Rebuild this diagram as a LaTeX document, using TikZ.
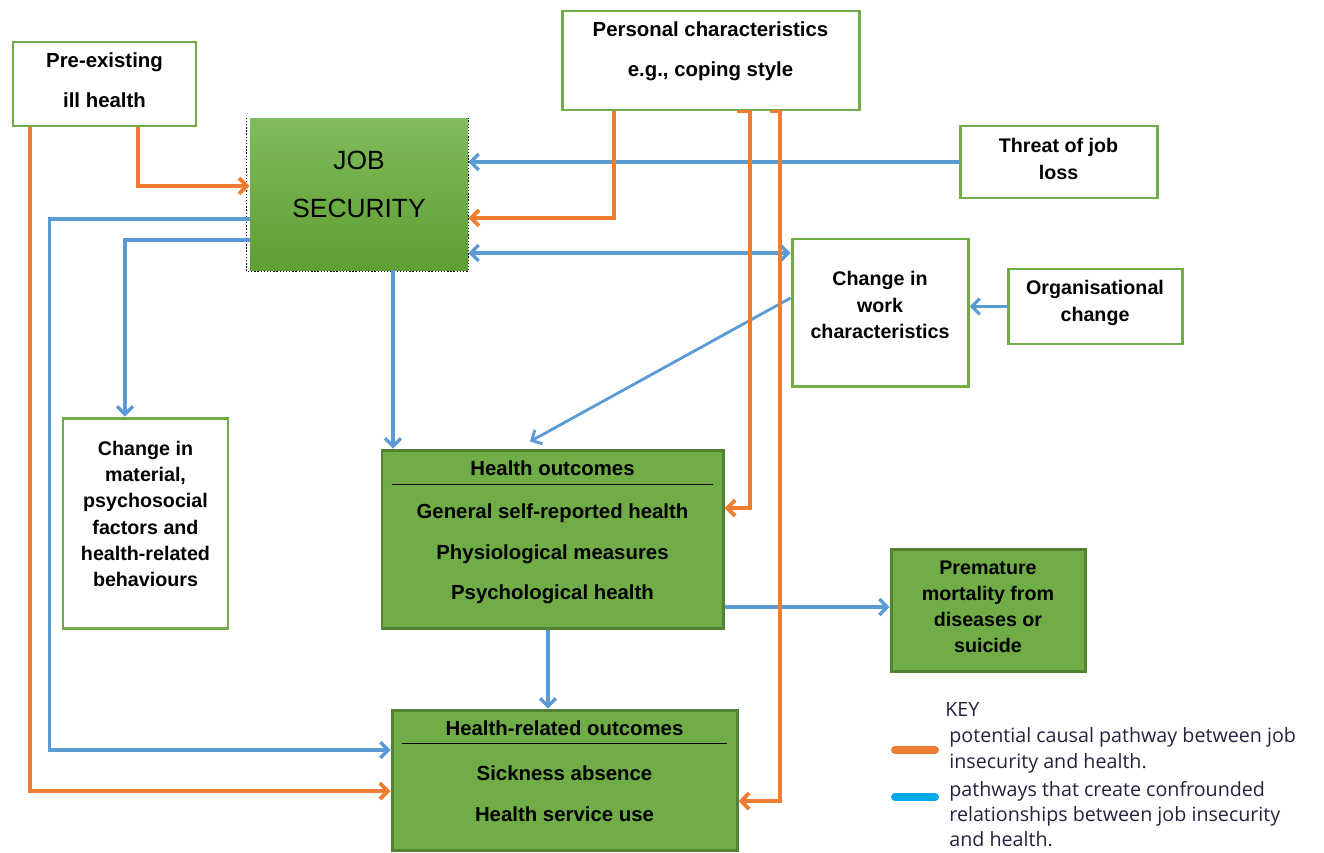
\documentclass[tikz,border=0pt]{standalone}
\usepackage{fontspec}
\setmainfont{Liberation Sans}
\newfontfamily\keyfont{Open Sans}
\usetikzlibrary{arrows.meta,calc}
\definecolor{ogreen}{RGB}{112,173,71}
\definecolor{dgreen}{RGB}{84,130,53}
\definecolor{jtop}{RGB}{128,188,92}
\definecolor{jbot}{RGB}{94,158,50}
\definecolor{orng}{RGB}{237,125,49}
\definecolor{blu}{RGB}{91,155,213}
\definecolor{keyblue}{RGB}{0,169,232}
\definecolor{keytext}{RGB}{38,34,62}
\def\u{0.02cm}
\begin{document}
\begin{tikzpicture}[x=0.02cm,y=-0.02cm,
  wbox/.style={draw=ogreen, line width=1.7pt, fill=white, inner sep=0pt},
  gbox/.style={draw=dgreen, line width=1.7pt, fill=ogreen, inner sep=0pt},
  lblw/.style={font=\fontsize{11.6}{23}\selectfont\bfseries, align=center, inner sep=0pt},
  lbln/.style={font=\fontsize{11.2}{14.9}\selectfont\bfseries, align=center, inner sep=0pt},
  tip/.style={-{Straight Barb[length=4.5pt,width=9pt]}},
  oarr/.style={draw=orng, line width=2.2pt, tip},
  barr/.style={draw=blu, line width=1.9pt, tip},
  keyline/.style={line width=4.5pt, line cap=round},
  keytxt/.style={font=\keyfont\fontsize{11.2}{14.4}\selectfont, text=keytext, align=left, anchor=west, inner sep=0pt}]
\useasboundingbox (0,0) rectangle (1324,852);

% boxes
\node[wbox, minimum width=183*\u, minimum height=84*\u] (pre) at (104.5,84) {};
\node[wbox, minimum width=297*\u, minimum height=99*\u] (pers) at (710.5,60.5) {};
\node[draw=none, inner sep=0pt, minimum width=218*\u, minimum height=152*\u, top color=jtop, bottom color=jbot] (job) at (359,194) {};
\draw[black, densely dotted, line width=0.8pt] ([xshift=-3*\u]job.north west) -- ([xshift=-3*\u,yshift=-1*\u]job.south west) -- ([yshift=-1*\u]job.south east) -- (job.north east);
\node[wbox, minimum width=197*\u, minimum height=72*\u] (threat) at (1058.5,162) {};
\node[wbox, minimum width=176*\u, minimum height=147*\u] (work) at (880,312.5) {};
\node[wbox, minimum width=174*\u, minimum height=75*\u] (org) at (1095,306.5) {};
\node[wbox, minimum width=165*\u, minimum height=210*\u] (mat) at (145.5,523) {};
\node[gbox, minimum width=341*\u, minimum height=178*\u] (ho) at (552.5,539) {};
\node[gbox, minimum width=194*\u, minimum height=122*\u] (prem) at (988,610) {};
\node[gbox, minimum width=345*\u, minimum height=140*\u] (hro) at (564.5,780) {};

% labels
\node[lblw] (pre-l) at (104.5,80) {Pre-existing\\ill health};
\node[lblw] (pers-l) at (710.5,51.5) {Personal characteristics\\e.g., coping style};
\node[font=\fontsize{15}{27.8}\selectfont, align=center, inner sep=0pt] (job-l) at (359,184.5) {JOB\\SECURITY};
\node[lbln] (threat-l) at (1058.5,159) {Threat of job\\loss};
\node[lbln] (work-l) at (880,305) {Change in\\work\\characteristics};
\node[lbln] (org-l) at (1095,303) {Organisational\\change};
\node[lbln] (mat-l) at (145.5,514) {Change in\\material,\\psychosocial\\factors and\\health-related\\behaviours};
\node[lbln] (prem-l) at (988,607) {Premature\\mortality from\\diseases or\\suicide};
\node[lblw] (ho-t) at (552.5,468) {Health outcomes};
\draw[black, line width=1pt] ([xshift=11*\u,yshift=-36*\u]ho.north west) -- ([xshift=-12*\u,yshift=-36*\u]ho.north east);
\node[lblw] (ho-l) at (552.5,554) {General self-reported health\\Physiological measures\\Psychological health};
\node[lblw] (hro-t) at (564.5,728) {Health-related outcomes};
\draw[black, line width=1pt] ([xshift=11*\u,yshift=-35*\u]hro.north west) -- ([xshift=-12*\u,yshift=-35*\u]hro.north east);
\node[lblw] (hro-l) at (564.5,793.5) {Sickness absence\\Health service use};

% blue connectors
\draw[barr] (threat.west) -- (threat.west -| job.east);
\draw[barr, {Straight Barb[length=4.5pt,width=9pt]}-{Straight Barb[length=4.5pt,width=9pt]}] ([yshift=-59*\u]job.east) -- ([yshift=-59*\u]job.east -| work.west);
\draw[barr] (org.west) -- (org.west -| work.east);
\draw[barr, line width=1.6pt] ([yshift=14.5*\u]work.west) -- ([xshift=-22.5*\u,yshift=7*\u]ho.north);
\draw[barr] ([xshift=34*\u]job.south) -- ([xshift=34*\u]job.south |- ho.north);
\draw[barr] ([yshift=-46*\u]job.west) -| ([xshift=-20.5*\u]mat.north);
\draw[barr] ([yshift=-25*\u]job.west) -- ++(-200*\u,0) |- ([yshift=30*\u]hro.west);
\draw[barr] ([xshift=-4.5*\u]ho.south) -- ([xshift=-4.5*\u]ho.south |- hro.north);
\draw[barr] ([yshift=-68*\u]ho.east) -- ([yshift=-68*\u]ho.east -| prem.west);

% orange connectors
\draw[oarr] ([xshift=33.5*\u]pre.south) |- ([yshift=8*\u]job.west);
\draw[oarr] ([xshift=-74.5*\u]pre.south) |- ([yshift=-11*\u]hro.west);
\draw[oarr] ([xshift=-96.5*\u]pers.south) |- ([yshift=-24*\u]job.east);
\draw[oarr] ([xshift=26.5*\u]pers.south) -- ++(13*\u,0) |- ([yshift=31*\u]ho.east);
\draw[oarr] ([xshift=59.5*\u]pers.south) -- ++(10*\u,0) |- ([yshift=-21*\u]hro.east);

% key
\node[keytxt] (key) at (945,709) {KEY};
\draw[keyline, orng] (895,750) -- (935,750);
\draw[keyline, keyblue] (895,797) -- (935,797);
\node[keytxt] (key-o) at (949,750.5) {potential causal pathway between job\\insecurity and health.};
\node[keytxt] (key-b) at (949,814) {pathways that create confrounded\\relationships between job insecurity\\and health.};
\end{tikzpicture}
\end{document}
